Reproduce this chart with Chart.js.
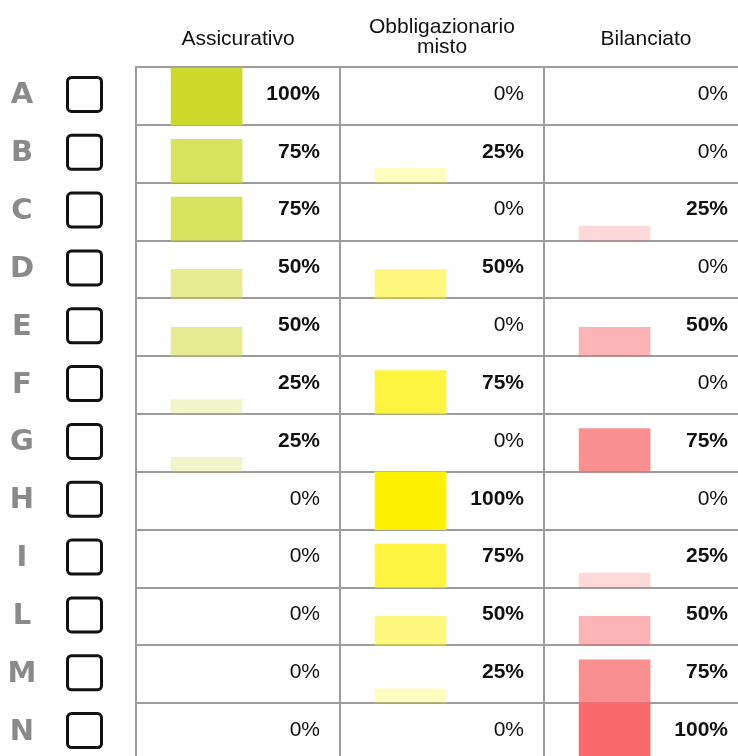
<!DOCTYPE html>
<html>
<head>
<meta charset="utf-8">
<script src="https://cdn.jsdelivr.net/npm/chart.js@4"></script>
<style>
  body { margin: 0; background: #fff; }
  #wrap { width: 738px; height: 756px; overflow: hidden; position: relative; }
  canvas { display: block; }
</style>
</head>
<body>
<div id="wrap"><canvas id="chart" width="750" height="761"></canvas></div>
<script>
// Row letters and column headers
const rowLabels = ['A', 'B', 'C', 'D', 'E', 'F', 'G', 'H', 'I', 'L', 'M', 'N'];
const columnHeaders = [['Assicurativo'], ['Obbligazionario', 'misto'], ['Bilanciato']];

// Percent share per row
const assicurativo   = [100, 75, 75, 50, 50, 25, 25, 0, 0, 0, 0, 0];
const obbligazionario = [0, 25, 0, 50, 0, 75, 0, 100, 75, 50, 25, 0];
const bilanciato     = [0, 0, 25, 0, 50, 0, 75, 0, 25, 50, 75, 100];

const columns = [assicurativo, obbligazionario, bilanciato];
const baseColors = [[203, 217, 42], [255, 242, 0], [248, 105, 107]];

// layout bits
const BAR_OFFSET = 0.346;   // bar centre inside a column (column units)
const GRID = '#9c9c9c';

const datasets = columns.map((vals, c) => ({
    label: columnHeaders[c].join(' '),
    data: vals.map((v, i) => ({ x: c + BAR_OFFSET, y: [i + 1 - v / 100, i + 1], v: v })),
    backgroundColor: ctx => {
        const v = ctx.raw ? ctx.raw.v : 0;
        const b = baseColors[c];
        return `rgba(${b[0]}, ${b[1]}, ${b[2]}, ${v / 100})`;
    },
    borderWidth: 0,
    barThickness: 71,
    grouped: false
}));

// headers, row letters, checkboxes and value labels
const tablePlugin = {
    id: 'tableText',
    afterDraw(chart) {
        const ctx = chart.ctx;
        const xs = chart.scales.x, ys = chart.scales.y;
        ctx.save();

        // column headers
        ctx.fillStyle = '#111';
        ctx.font = '21px "Liberation Sans", Arial, sans-serif';
        ctx.textAlign = 'center';
        ctx.textBaseline = 'alphabetic';
        columnHeaders.forEach((lines, c) => {
            const cx = xs.getPixelForValue(c + 0.5);
            if (lines.length === 1) {
                ctx.fillText(lines[0], cx, 45);
            } else {
                ctx.fillText(lines[0], cx, 33);
                ctx.fillText(lines[1], cx, 53);
            }
        });

        rowLabels.forEach((lab, i) => {
            const cy = ys.getPixelForValue(i + 0.5);

            // row letter
            ctx.fillStyle = '#8a8a8a';
            ctx.font = 'bold 29px "DejaVu Sans", Verdana, sans-serif';
            ctx.textAlign = 'center';
            ctx.textBaseline = 'middle';
            ctx.fillText(lab, 22, cy);

            // empty checkbox
            ctx.strokeStyle = '#111';
            ctx.lineWidth = 3;
            ctx.beginPath();
            ctx.roundRect(67.5, cy - 18.5, 34, 34, 4);
            ctx.stroke();

            // value labels
            columns.forEach((vals, c) => {
                const v = vals[i];
                ctx.fillStyle = '#111';
                ctx.font = (v > 0 ? 'bold ' : '') + '21px "Liberation Sans", Arial, sans-serif';
                ctx.textAlign = 'right';
                ctx.fillText(v + '%', xs.getPixelForValue(c + 1) - 20, cy - 2);
            });
        });
        ctx.restore();
    }
};

new Chart(document.getElementById('chart'), {
    type: 'bar',
    data: { datasets: datasets },
    options: {
        responsive: false,
        animation: false,
        layout: { padding: { top: 67, left: 136, right: 2, bottom: 0 } },
        plugins: {
            legend: { display: false },
            tooltip: { enabled: false }
        },
        scales: {
            x: {
                type: 'linear',
                min: 0,
                max: 3,
                offset: false,
                ticks: { display: false, stepSize: 1 },
                grid: { color: GRID, lineWidth: 2, drawTicks: false, offset: false },
                border: { color: GRID, width: 2 }
            },
            y: {
                type: 'linear',
                min: 0,
                max: 12,
                reverse: true,
                ticks: { display: false, stepSize: 1 },
                grid: { color: GRID, lineWidth: 2, drawTicks: false },
                border: { color: GRID, width: 2 }
            }
        }
    },
    plugins: [tablePlugin]
});
</script>
</body>
</html>
